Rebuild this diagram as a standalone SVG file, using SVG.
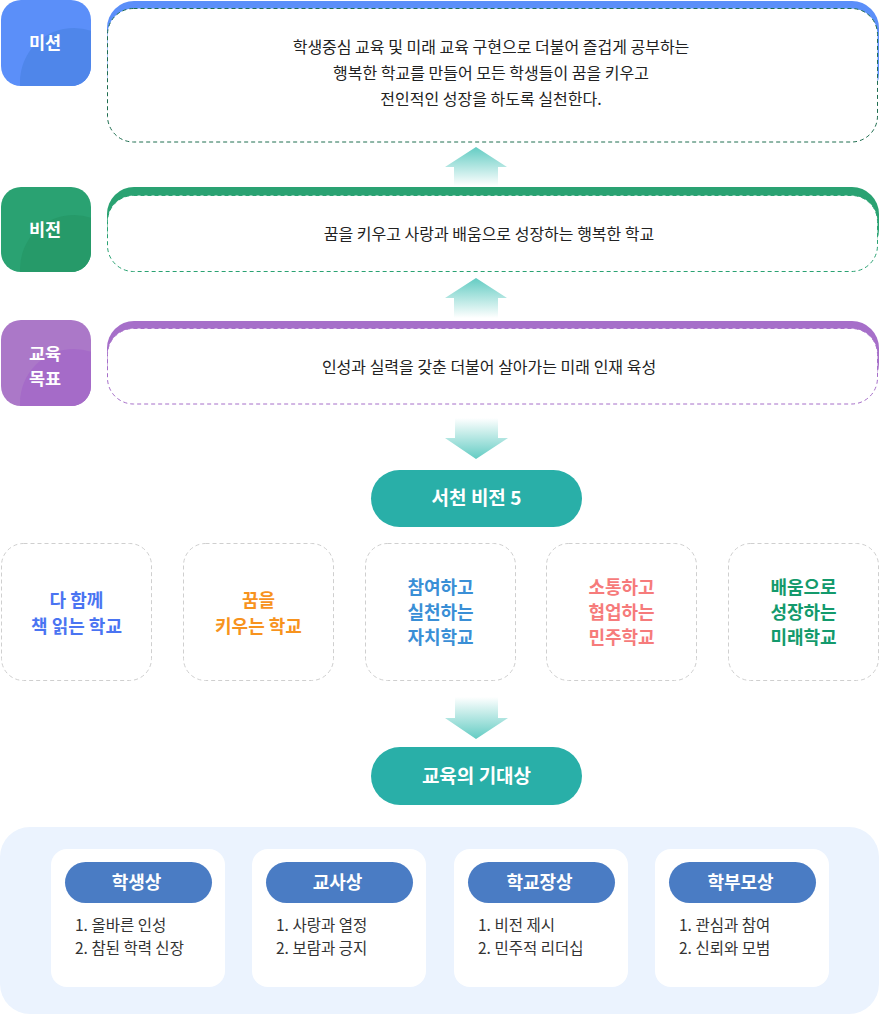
<svg xmlns="http://www.w3.org/2000/svg" width="880" height="1014" viewBox="0 0 880 1014">
<defs>
<style>
text{font-family:"Noto Sans CJK KR","Noto Sans",sans-serif;}
.lbl{fill:#fff;font-size:17.5px;font-weight:700;text-anchor:middle;}
.body{fill:#222;font-size:16px;text-anchor:middle;}
.card{fill:#fff;stroke:#cfcfcf;stroke-width:1;stroke-dasharray:4 3;}
.ct{font-size:18px;font-weight:700;text-anchor:middle;}
.pill{fill:#29afa8;}
.pt{fill:#fff;font-size:19px;font-weight:700;text-anchor:middle;}
.ic{fill:#fff;}
.ip{fill:#4a7cc4;}
.ipt{fill:#fff;font-size:18px;font-weight:700;text-anchor:middle;}
.li{fill:#333;font-size:15.5px;}
</style>
<linearGradient id="gup" x1="0" y1="0" x2="0" y2="1">
<stop offset="0" stop-color="#63ccc3"/>
<stop offset="1" stop-color="#63ccc3" stop-opacity="0"/>
</linearGradient>
<linearGradient id="gdn" x1="0" y1="0" x2="0" y2="1">
<stop offset="0" stop-color="#63ccc3" stop-opacity="0"/>
<stop offset="1" stop-color="#63ccc3"/>
</linearGradient>
<clipPath id="c1"><rect x="1" y="0" width="90" height="86" rx="20"/></clipPath>
<clipPath id="c2"><rect x="1" y="187" width="90" height="85" rx="20"/></clipPath>
<clipPath id="c3"><rect x="1" y="320" width="90" height="86" rx="20"/></clipPath>
</defs>

<g id="mission-label">
<rect x="1" y="0" width="90" height="86" rx="20" fill="#5b8ff9"/>
<circle cx="74" cy="82" r="54" fill="#4f86ea" clip-path="url(#c1)"/>
<text class="lbl" x="45" y="49">미션</text>
</g>
<g id="mission">
<rect x="107" y="1" width="772" height="100" rx="27" fill="#5b8ff9"/>
<rect x="107.5" y="8.5" width="770" height="133.5" rx="26" fill="#fff" stroke="#1f6e50" stroke-dasharray="4 3"/>
<text class="body" x="491" y="53">학생중심 교육 및 미래 교육 구현으로 더불어 즐겁게 공부하는</text>
<text class="body" x="491" y="79">행복한 학교를 만들어 모든 학생들이 꿈을 키우고</text>
<text class="body" x="491" y="105">전인적인 성장을 하도록 실천한다.</text>
</g>

<g id="vision-label">
<rect x="1" y="187" width="90" height="85" rx="20" fill="#2aa272"/>
<circle cx="74" cy="269" r="54" fill="#269a69" clip-path="url(#c2)"/>
<text class="lbl" x="45" y="236">비전</text>
</g>
<g id="vision">
<rect x="107" y="187" width="772" height="70" rx="27" fill="#2aa272"/>
<rect x="107.5" y="195.5" width="770" height="76" rx="26" fill="#fff" stroke="#2aa272" stroke-dasharray="4 3"/>
<text class="body" x="489" y="240">꿈을 키우고 사랑과 배움으로 성장하는 행복한 학교</text>
</g>

<g id="goal-label">
<rect x="1" y="320" width="90" height="86" rx="20" fill="#ab78c8"/>
<circle cx="74" cy="403" r="54" fill="#a56bc8" clip-path="url(#c3)"/>
<text class="lbl" x="45" y="360">교육</text>
<text class="lbl" x="45" y="385">목표</text>
</g>
<g id="goal">
<rect x="107" y="321" width="772" height="70" rx="27" fill="#a66fc9"/>
<rect x="107.5" y="328.5" width="770" height="75.5" rx="26" fill="#fff" stroke="#a66fc9" stroke-dasharray="4 3"/>
<text class="body" x="489" y="373">인성과 실력을 갖춘 더불어 살아가는 미래 인재 육성</text>
</g>

<g id="connectors">
<path d="M476 147 L507 167 L498 167 L498 186 L454 186 L454 167 L445 167 Z" fill="url(#gup)"/>
<path d="M476 278 L507 298 L498 298 L498 318 L454 318 L454 298 L445 298 Z" fill="url(#gup)"/>
<path d="M455 418 L498 418 L498 438 L508 438 L476 459 L445 438 L455 438 Z" fill="url(#gdn)"/>
<path d="M455 697 L498 697 L498 718 L508 718 L476 739 L445 718 L455 718 Z" fill="url(#gdn)"/>
</g>

<g id="seocheon-vision5">
<rect class="pill" x="371" y="470" width="211" height="57" rx="28.5"/>
<text class="pt" x="476.5" y="505">서천 비전 5</text>
</g>

<g id="card1">
<rect class="card" x="1.5" y="543.5" width="150" height="137" rx="22"/>
<text class="ct" x="76.5" y="607" fill="#4a74f2">다 함께</text>
<text class="ct" x="76.5" y="633" fill="#4a74f2">책 읽는 학교</text>
</g>
<g id="card2">
<rect class="card" x="183.5" y="543.5" width="150" height="137" rx="22"/>
<text class="ct" x="258.5" y="607" fill="#f7931e">꿈을</text>
<text class="ct" x="258.5" y="633" fill="#f7931e">키우는 학교</text>
</g>
<g id="card3">
<rect class="card" x="365.5" y="543.5" width="150" height="137" rx="22"/>
<text class="ct" x="440.5" y="594" fill="#3a8fd6">참여하고</text>
<text class="ct" x="440.5" y="619" fill="#3a8fd6">실천하는</text>
<text class="ct" x="440.5" y="644" fill="#3a8fd6">자치학교</text>
</g>
<g id="card4">
<rect class="card" x="546.5" y="543.5" width="150" height="137" rx="22"/>
<text class="ct" x="621.5" y="594" fill="#f67b7b">소통하고</text>
<text class="ct" x="621.5" y="619" fill="#f67b7b">협업하는</text>
<text class="ct" x="621.5" y="644" fill="#f67b7b">민주학교</text>
</g>
<g id="card5">
<rect class="card" x="728.5" y="543.5" width="150" height="137" rx="22"/>
<text class="ct" x="803.5" y="594" fill="#139a6c">배움으로</text>
<text class="ct" x="803.5" y="619" fill="#139a6c">성장하는</text>
<text class="ct" x="803.5" y="644" fill="#139a6c">미래학교</text>
</g>

<g id="expected-image">
<rect class="pill" x="371" y="747" width="211" height="58" rx="29"/>
<text class="pt" x="476.5" y="783">교육의 기대상</text>
</g>

<g id="bottom-panel">
<rect x="0" y="827" width="879" height="187" rx="30" fill="#ebf3fe"/>
</g>
<g id="student">
<rect class="ic" x="51" y="849" width="174" height="138" rx="16"/>
<rect class="ip" x="65" y="862" width="147" height="41" rx="20.5"/>
<text class="ipt" x="136.5" y="889">학생상</text>
<text class="li" x="75" y="931">1. 올바른 인성</text>
<text class="li" x="75" y="954">2. 참된 학력 신장</text>
</g>
<g id="teacher">
<rect class="ic" x="252" y="849" width="174" height="138" rx="16"/>
<rect class="ip" x="266" y="862" width="147" height="41" rx="20.5"/>
<text class="ipt" x="337.5" y="889">교사상</text>
<text class="li" x="276" y="931">1. 사랑과 열정</text>
<text class="li" x="276" y="954">2. 보람과 긍지</text>
</g>
<g id="principal">
<rect class="ic" x="454" y="849" width="174" height="138" rx="16"/>
<rect class="ip" x="468" y="862" width="147" height="41" rx="20.5"/>
<text class="ipt" x="539.5" y="889">학교장상</text>
<text class="li" x="478" y="931">1. 비전 제시</text>
<text class="li" x="478" y="954">2. 민주적 리더십</text>
</g>
<g id="parent">
<rect class="ic" x="655" y="849" width="174" height="138" rx="16"/>
<rect class="ip" x="669" y="862" width="147" height="41" rx="20.5"/>
<text class="ipt" x="740.5" y="889">학부모상</text>
<text class="li" x="679" y="931">1. 관심과 참여</text>
<text class="li" x="679" y="954">2. 신뢰와 모범</text>
</g>
</svg>
